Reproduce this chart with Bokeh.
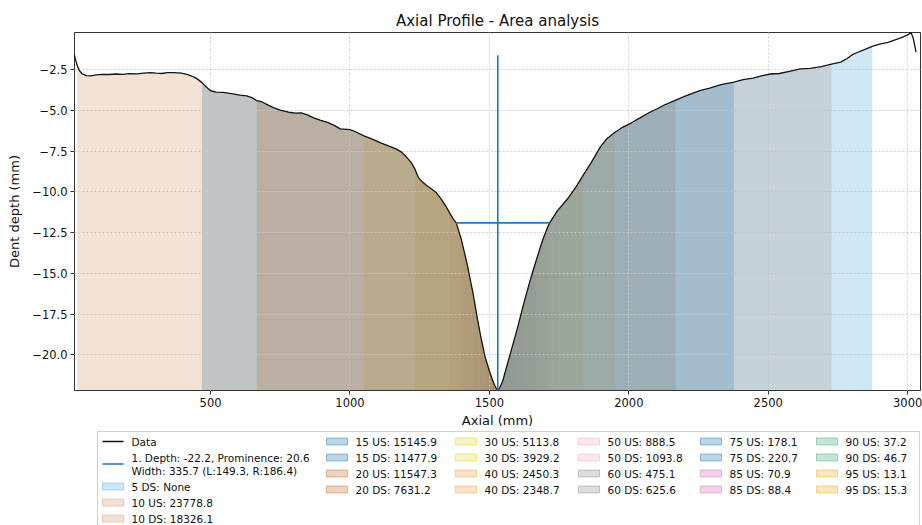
from bokeh.plotting import figure
from bokeh.models import Range1d, FixedTicker, CustomJSTickFormatter, ColumnDataSource
from bokeh.layouts import column
from bokeh.core.properties import value
from bokeh.embed import file_html
from bokeh.resources import INLINE

FONT = "DejaVu Sans"

# Axial dent profile: position along the pipe (mm) and dent depth (mm)
axial = [12, 17, 22, 30, 40, 55, 70, 90, 110, 135, 160, 185, 210, 235, 260, 285,
         305, 325, 345, 370, 395, 415, 435, 452, 469, 485, 500, 520, 545, 575,
         605, 630, 650, 665, 685, 705, 725, 750, 780, 805, 825, 845, 870, 895,
         920, 945, 965, 1000, 1020, 1050, 1080, 1110, 1140, 1165, 1185, 1205,
         1220, 1233, 1245, 1258, 1275, 1295, 1310, 1328, 1343, 1358, 1370, 1381,
         1399, 1410, 1421, 1442, 1457, 1468, 1484, 1500, 1512, 1522, 1530, 1538,
         1548, 1564, 1582, 1600, 1612, 1624, 1645, 1666, 1690, 1708, 1716, 1744,
         1779, 1810, 1837, 1865, 1899, 1920, 1949, 1975, 2006, 2040, 2075, 2100,
         2125, 2168, 2200, 2230, 2257, 2290, 2330, 2377, 2410, 2445, 2480, 2508,
         2540, 2580, 2615, 2650, 2690, 2727, 2760, 2783, 2800, 2819, 2845, 2873,
         2900, 2930, 2955, 2980, 3000, 3012, 3020, 3030]
depth = [-1.60, -1.95, -2.25, -2.55, -2.75, -2.85, -2.86, -2.80, -2.77, -2.78,
         -2.75, -2.77, -2.73, -2.74, -2.70, -2.67, -2.70, -2.72, -2.66, -2.66,
         -2.70, -2.78, -2.90, -3.05, -3.28, -3.55, -3.78, -3.86, -3.88, -3.95,
         -4.05, -4.10, -4.22, -4.38, -4.47, -4.65, -4.82, -4.97, -5.10, -5.15,
         -5.14, -5.25, -5.45, -5.60, -5.72, -5.92, -6.12, -6.17, -6.30, -6.55,
         -6.75, -6.98, -7.18, -7.35, -7.55, -7.90, -8.20, -8.60, -9.10, -9.35,
         -9.60, -9.85, -10.05, -10.45, -10.85, -11.30, -11.65, -11.90, -12.90,
         -13.70, -14.50, -16.30, -17.80, -18.80, -20.10, -21.00, -21.60, -22.00,
         -22.20, -22.00, -21.60, -20.60, -19.50, -18.40, -17.60, -16.80, -15.50,
         -14.30, -13.00, -12.20, -11.90, -11.15, -10.45, -9.70, -8.95, -8.20,
         -7.20, -6.75, -6.35, -6.05, -5.78, -5.45, -5.10, -4.90, -4.67, -4.35,
         -4.12, -3.92, -3.76, -3.62, -3.40, -3.25, -3.10, -3.00, -2.85, -2.75,
         -2.72, -2.57, -2.44, -2.40, -2.30, -2.15, -2.02, -1.80, -1.58, -1.43,
         -1.25, -1.05, -0.92, -0.80, -0.65, -0.50, -0.35, -0.20, -0.55, -1.40]

# Detected peak
peak_axial = 1530.0
peak_depth = -22.2
prominence = 20.6
peak_width = 335.7
width_left = 149.3
width_right = 186.4

# Area bands: upstream start / downstream end for each percentage level
levels = [5, 10, 15, 20, 30, 40, 50, 60, 75, 85, 90, 95]
us_start = [None, 22, 469, 665, 1050, 1233, 1358, 1399, 1442, 1468, 1484, 1500]
ds_end = [2873, 2727, 2377, 2168, 1949, 1837, 1744, 1708, 1666, 1624, 1600, 1582]
us_area = [None, 23778.8, 15145.9, 11547.3, 5113.8, 2450.3, 888.5, 475.1,
           178.1, 70.9, 37.2, 13.1]
ds_area = [None, 18326.1, 11477.9, 7631.2, 3929.2, 2348.7, 1093.8, 625.6,
           220.7, 88.4, 46.7, 15.3]
level_colors = ["#5dade2", "#d49e76", "#1f77b4", "#d2691e", "#e1d728", "#f0a03c",
                "#f0aac8", "#8a8a8a", "#1f77b4", "#cd6eaf", "#3caa78", "#f0aa28"]
FILL_ALPHA = 0.3

x_ticks = [500, 1000, 1500, 2000, 2500, 3000]
y_ticks = [-20.0, -17.5, -15.0, -12.5, -10.0, -7.5, -5.0, -2.5]

W = 922
FRAME_L, FRAME_R = 74, 920
floor = min(depth)

p = figure(width=W, height=430, output_backend="svg", toolbar_location=None,
           x_range=Range1d(axial[0], 3046), y_range=Range1d(floor, max(depth)),
           title="Axial Profile - Area analysis",
           min_border_left=FRAME_L, min_border_right=W - FRAME_R, min_border_top=32,
           min_border_bottom=37)


def segment(lo, hi):
    xs = [a for a in axial if lo <= a <= hi]
    ys = [d for a, d in zip(axial, depth) if lo <= a <= hi]
    return xs, ys


legend_items = [("line", "#111111", ["Data"]),
                ("line", "#1f77b4",
                 ["1. Depth: %.1f, Prominence: %.1f" % (peak_depth, prominence),
                  "Width: %.1f (L:%.1f, R:%.1f)" % (peak_width, width_left, width_right)])]
for lvl, start, end, ua, da, color in zip(levels, us_start, ds_end, us_area,
                                          ds_area, level_colors):
    if start is not None:
        legend_items.append(("patch", color, ["%d US: %s" % (lvl, ua)]))
    if end is not None:
        legend_items.append(("patch", color, ["%d DS: %s" % (lvl, da)]))

# Narrow (high level) bands sit underneath, wide bands are layered on top
for lvl, start, end, color in reversed(list(zip(levels, us_start, ds_end,
                                                level_colors))):
    if end is not None:
        xs, ys = segment(peak_axial, end)
        p.varea(x=xs, y1=ys, y2=floor, fill_color=color, fill_alpha=FILL_ALPHA)
    if start is not None:
        xs, ys = segment(start, peak_axial)
        p.varea(x=xs, y1=ys, y2=floor, fill_color=color, fill_alpha=FILL_ALPHA)

p.line(axial, depth, line_color="#151515", line_width=1.3, level="annotation")

# Prominence and width markers of the peak
p.segment(x0=[peak_axial], y0=[peak_depth], x1=[peak_axial],
          y1=[peak_depth + prominence], line_color="#1f77b4", line_width=1.6,
          level="annotation")
half_level = peak_depth + prominence / 2
p.segment(x0=[peak_axial - width_left], y0=[half_level],
          x1=[peak_axial + width_right], y1=[half_level],
          line_color="#1f77b4", line_width=1.6, level="annotation")

# Axes and grid
p.xaxis.ticker = FixedTicker(ticks=x_ticks)
p.yaxis.ticker = FixedTicker(ticks=y_ticks)
p.yaxis.formatter = CustomJSTickFormatter(
    code="return tick.toFixed(1).replace('-', '\u2212');")
p.xaxis.axis_label = "Axial (mm)"
p.yaxis.axis_label = "Dent depth (mm)"
for ax in (p.xaxis, p.yaxis):
    ax.major_label_text_font = FONT
    ax.major_label_text_font_size = "11.5px"
    ax.major_label_text_color = "#111111"
    ax.axis_label_text_font = FONT
    ax.axis_label_text_font_size = "13px"
    ax.axis_label_text_font_style = "normal"
    ax.axis_label_text_color = "#111111"
    ax.minor_tick_line_color = None
    ax.major_tick_in = 0
    ax.major_tick_out = 4
    ax.major_tick_line_color = "#333333"
    ax.axis_line_color = "#333333"
    ax.major_label_standoff = 3
p.xaxis.axis_label_standoff = 3
p.yaxis.axis_label_standoff = 7
p.outline_line_color = "#333333"
p.outline_line_width = 1
for g in (p.xgrid, p.ygrid):
    g.grid_line_color = "#c4c4c4"
    g.grid_line_dash = "2 2"
    g.grid_line_width = 0.8
    g.level = "guide"

p.title.text_font = FONT
p.title.text_font_size = "15px"
p.title.text_font_style = "normal"
p.title.align = "center"
p.title.text_color = "#111111"
p.title.standoff = 6

# Legend panel below the plot; its x scale is in page pixels
LH = 95
leg = figure(width=W, height=LH, output_backend="svg", toolbar_location=None,
             x_range=Range1d(FRAME_L, FRAME_R), y_range=Range1d(LH, 0),
             x_axis_location=None, y_axis_location=None,
             min_border_left=FRAME_L, min_border_right=W - FRAME_R,
             min_border_top=0, min_border_bottom=0)
leg.grid.visible = False
leg.outline_line_color = None
leg.quad(left=[97], right=[919], top=[1], bottom=[LH + 20], fill_color="white",
         line_color="#d0d0d0", line_width=1)

col_left = [102, 326, 455, 578, 700, 816]
col_sizes = [5, 4, 4, 4, 4, 4]
line_rows = dict(x0=[], y0=[], x1=[], y1=[], c=[])
patch_rows = dict(left=[], right=[], top=[], bottom=[], c=[])
text_rows = dict(x=[], y=[], t=[])
idx = 0
for ci, n in enumerate(col_sizes):
    cursor = 11.0
    for kind, color, lines in legend_items[idx:idx + n]:
        ys = [cursor + 13 * k for k in range(len(lines))]
        mid = sum(ys) / len(ys)
        x0 = col_left[ci]
        if kind == "line":
            line_rows["x0"].append(x0)
            line_rows["x1"].append(x0 + 21)
            line_rows["y0"].append(mid)
            line_rows["y1"].append(mid)
            line_rows["c"].append(color)
        else:
            patch_rows["left"].append(x0)
            patch_rows["right"].append(x0 + 21)
            patch_rows["top"].append(mid - 3.5)
            patch_rows["bottom"].append(mid + 3.5)
            patch_rows["c"].append(color)
        for yy, t in zip(ys, lines):
            text_rows["x"].append(x0 + 29)
            text_rows["y"].append(yy)
            text_rows["t"].append(t)
        cursor += 16 + 13 * (len(lines) - 1)
    idx += n

leg.segment(x0="x0", y0="y0", x1="x1", y1="y1", line_color="c", line_width=1.6,
            source=ColumnDataSource(line_rows))
leg.quad(left="left", right="right", top="top", bottom="bottom", fill_color="c",
         fill_alpha=FILL_ALPHA, line_color="c", line_alpha=0.45,
         source=ColumnDataSource(patch_rows))
leg.text(x="x", y="y", text="t", text_font=value(FONT), text_font_size="10.5px",
         text_baseline="middle", text_align="left", text_color="#111111",
         source=ColumnDataSource(text_rows))

layout = column(p, leg, spacing=0)
open("out.html", "w").write(file_html(layout, INLINE))
